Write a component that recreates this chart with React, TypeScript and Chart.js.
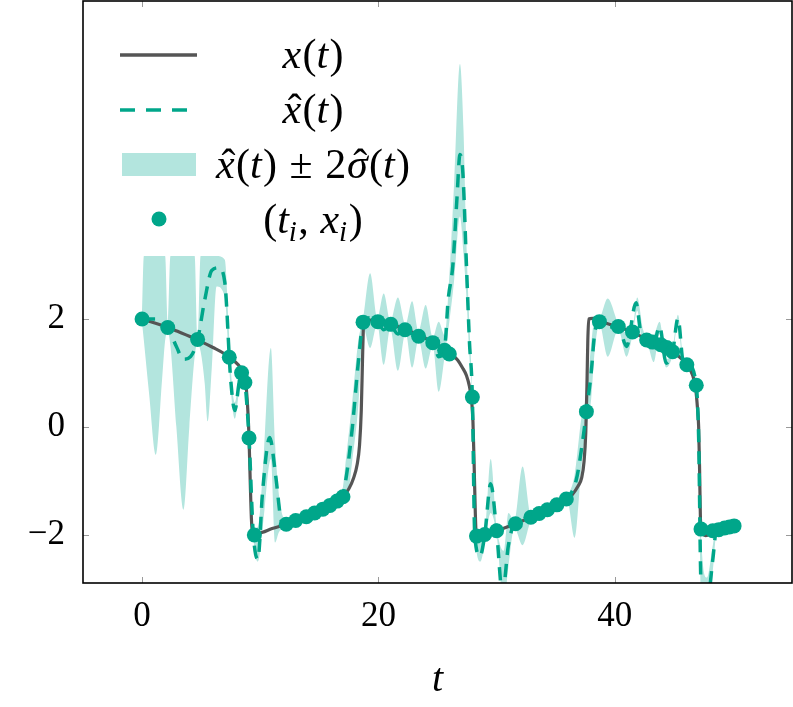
import { useEffect, useRef } from 'react';
import { Chart, registerables } from 'chart.js';
Chart.register(...registerables);

// ---------- data ----------
const trueT = [0, 1, 2, 3, 4, 5, 6, 7, 7.8, 8.3, 8.6, 8.8, 8.95, 9.05, 9.15, 9.25, 9.35, 9.6, 10.2, 11, 12.2, 13, 14, 15, 16, 17, 17.5, 17.9, 18.2, 18.4, 18.55, 18.65, 18.72, 18.8, 19.2, 20, 21, 22, 23, 24, 25, 25.6, 26.2, 26.7, 27.1, 27.45, 27.7, 27.9, 28.0, 28.1, 28.2, 28.28, 28.5, 29, 30, 31, 32, 33, 34, 35, 35.9, 36.4, 36.9, 37.2, 37.4, 37.55, 37.65, 37.72, 37.8, 38.1, 39, 40, 41, 42, 43, 44, 45, 45.7, 46.2, 46.6, 46.85, 47.0, 47.1, 47.18, 47.25, 47.35, 47.7, 48.3, 49, 50];
const trueX = [2.0, 1.93, 1.86, 1.77, 1.68, 1.58, 1.47, 1.35, 1.22, 1.1, 0.95, 0.75, 0.3, -0.2, -1.0, -1.7, -1.97, -2.0, -1.96, -1.89, -1.81, -1.74, -1.66, -1.56, -1.45, -1.3, -1.15, -0.95, -0.7, -0.35, 0.3, 1.2, 1.8, 1.98, 1.98, 1.95, 1.9, 1.83, 1.74, 1.64, 1.52, 1.44, 1.34, 1.24, 1.1, 0.95, 0.75, 0.45, 0.1, -0.7, -1.6, -2.0, -2.02, -2.0, -1.93, -1.85, -1.76, -1.68, -1.59, -1.48, -1.35, -1.26, -1.1, -0.95, -0.65, -0.1, 0.8, 1.6, 2.0, 2.01, 1.94, 1.87, 1.8, 1.7, 1.6, 1.49, 1.37, 1.25, 1.12, 0.95, 0.7, 0.35, 0.0, -0.8, -1.7, -1.95, -2.02, -1.96, -1.91, -1.84];

const estT = [0, 1.1, 2.17, 2.9, 3.5, 4.1, 4.7, 5.3, 5.9, 6.5, 7.0, 7.5, 7.85, 8.2, 8.42, 8.7, 9.05, 9.4, 9.8, 10.2, 10.8, 11.3, 11.8, 12.2, 13.2, 14.3, 15.3, 16.2, 16.9, 17.3, 17.8, 18.3, 18.7, 19.3, 19.9, 20.45, 21.0, 21.65, 22.3, 22.85, 23.4, 24.0, 24.6, 25.1, 25.6, 25.9, 26.3, 26.65, 26.9, 27.15, 27.45, 27.7, 27.95, 28.15, 28.6, 29.0, 29.5, 30.0, 30.5, 31.0, 31.5, 32.2, 32.9, 33.8, 34.5, 35.3, 36.0, 36.75, 37.3, 37.6, 38.0, 38.3, 38.7, 39.4, 40.3, 41.0, 41.8, 42.2, 42.7, 43.2, 43.8, 44.35, 44.9, 45.35, 45.8, 46.2, 46.9, 47.1, 47.3, 47.8, 48.3, 48.6, 49.4, 50.1];
const estX = [2.0, 2.0, 1.84, 1.49, 1.25, 1.3, 1.62, 2.35, 2.9, 2.95, 2.68, 0.87, 0.3, 0.8, 1.0, 0.82, -0.21, -1.95, -2.46, -1.2, -0.2, -0.9, -1.75, -1.81, -1.72, -1.61, -1.51, -1.41, -1.32, -0.9, 0.0, 1.2, 1.92, 2.02, 1.96, 1.8, 1.88, 1.72, 1.84, 1.72, 1.73, 1.62, 1.62, 1.3, 1.45, 2.35, 3.0, 4.25, 5.05, 4.7, 3.0, 1.59, 0.55, -2.0, -2.4, -2.0, -1.06, -1.93, -3.1, -2.2, -1.81, -1.75, -1.71, -1.61, -1.55, -1.44, -1.33, -0.98, -0.24, 0.28, 0.99, 1.73, 1.95, 1.85, 1.86, 1.49, 2.3, 1.75, 1.6, 1.45, 1.86, 1.18, 1.39, 2.01, 1.2, 1.16, 0.76, -0.2, -2.9, -3.3, -2.46, -1.93, -1.88, -1.84];

const bandT = [0, 0.15, 0.6, 1.16, 1.7, 1.95, 2.17, 2.4, 2.9, 3.5, 4.0, 4.45, 4.7, 4.95, 5.3, 5.55, 5.9, 6.3, 7.0, 7.3, 7.5, 7.85, 8.2, 8.42, 8.7, 9.05, 9.4, 9.8, 10.2, 10.9, 11.25, 11.6, 12.2, 13.2, 14.3, 15.3, 16.2, 16.9, 17.3, 17.8, 18.3, 18.7, 19.3, 19.9, 20.45, 21.0, 21.65, 22.3, 22.85, 23.4, 24.0, 24.6, 25.1, 25.6, 26.0, 26.4, 26.9, 27.2, 27.45, 27.7, 27.95, 28.2, 28.65, 29.0, 29.5, 30.0, 30.6, 31.0, 31.5, 32.2, 32.9, 33.8, 34.5, 35.3, 36.0, 36.6, 37.2, 37.6, 38.0, 38.3, 38.7, 39.4, 40.3, 41.0, 41.5, 41.9, 42.4, 42.7, 43.3, 43.8, 44.35, 44.9, 45.35, 45.8, 46.2, 46.9, 47.1, 47.3, 47.8, 48.3, 48.6, 49.4, 50.1];
const bandUpper = [2.08, 3.17, 3.17, 3.17, 3.17, 3.17, 1.92, 3.17, 3.17, 3.17, 3.17, 3.17, 1.7, 3.17, 3.17, 3.17, 3.17, 3.17, 3.1, 2.0, 1.1, 0.45, 0.88, 1.06, 0.88, -0.15, -1.9, -1.85, -0.9, 1.46, -0.3, -1.3, -1.74, -1.66, -1.55, -1.45, -1.35, -1.22, -0.5, 0.5, 1.6, 2.0, 2.85, 2.02, 2.47, 1.96, 2.4, 1.9, 2.33, 1.78, 2.26, 1.66, 1.95, 1.7, 2.8, 4.5, 6.73, 5.5, 3.4, 1.9, 0.62, -1.9, -1.95, -1.9, -0.6, -1.85, -2.3, -1.6, -1.75, -0.74, -1.64, -1.55, -1.49, -1.38, -1.27, -0.9, 0.2, 0.6, 1.5, 2.0, 2.02, 2.38, 1.92, 1.75, 1.82, 2.4, 1.8, 1.66, 1.7, 1.95, 1.25, 1.45, 2.08, 1.3, 1.22, 0.82, 0.0, -2.0, -2.8, -2.2, -1.88, -1.83, -1.79];
const bandLower = [1.92, 1.6, 0.6, -0.52, 0.9, 1.6, 1.76, 1.5, 0.0, -1.54, 0.0, 1.3, 1.55, 1.4, 0.8, 0.1, 1.1, 2.6, 2.4, 1.4, 0.7, 0.15, 0.65, 0.95, 0.76, -0.27, -2.0, -2.5, -1.9, -0.6, -2.15, -1.95, -1.88, -1.78, -1.67, -1.57, -1.47, -1.42, -1.4, -0.6, 0.4, 1.85, 1.46, 1.9, 1.15, 1.82, 1.04, 1.75, 1.1, 1.62, 1.08, 1.5, 0.65, 1.3, 1.95, 2.7, 3.9, 3.2, 2.4, 1.3, 0.45, -2.1, -2.5, -2.15, -1.6, -2.0, -3.3, -2.6, -1.88, -2.2, -1.76, -1.67, -1.61, -1.5, -1.4, -2.06, -0.7, 0.0, 0.5, 1.4, 1.9, 1.3, 1.8, 1.3, 1.7, 2.15, 1.5, 1.55, 1.2, 1.72, 1.1, 1.33, 1.9, 1.1, 1.1, 0.7, -0.3, -3.3, -3.5, -2.7, -2.0, -1.93, -1.89];

const obsT = [0, 2.17, 4.7, 7.38, 8.42, 8.7, 9.05, 9.5, 12.2, 13.0, 13.9, 14.6, 15.3, 15.9, 16.5, 17.0, 18.7, 19.95, 21.05, 22.25, 23.4, 24.6, 25.6, 26.0, 27.95, 28.3, 29.0, 30.0, 31.6, 32.9, 33.6, 34.3, 35.1, 35.9, 37.6, 38.7, 40.3, 41.5, 42.7, 43.2, 43.9, 44.4, 44.9, 46.1, 46.9, 47.3, 48.3, 48.8, 49.3, 49.7, 50.1];
const obsX = [2.0, 1.84, 1.62, 1.29, 1.0, 0.82, -0.21, -2.01, -1.81, -1.74, -1.67, -1.6, -1.53, -1.46, -1.38, -1.3, 1.94, 1.95, 1.9, 1.8, 1.68, 1.56, 1.42, 1.35, 0.55, -2.03, -2.0, -1.93, -1.8, -1.68, -1.61, -1.54, -1.45, -1.34, 0.28, 1.95, 1.86, 1.76, 1.61, 1.57, 1.52, 1.47, 1.39, 1.15, 0.77, -1.9, -1.93, -1.91, -1.88, -1.86, -1.84];

const xTicks = [0, 20, 40];
const yTicks = [-2, 0, 2];
const xMin = -5, xMax = 55;
const yMin = -2.9, yMax = 7.9;
const xTitle = 't';

// ---------- styles ----------
const GRAY = '#555555';
const TEAL = '#00a68a';
const BAND = '#b3e5de';
const FAM = '"Liberation Serif", serif';
const DASH = [13, 9];

const zip = (ts: number[], ys: number[]) => ts.map((t, i) => ({ x: t, y: ys[i] }));
const minus = (v: number) => (v < 0 ? '\u2212' + Math.abs(v) : String(v));

type Seg = { s: string; it?: boolean; sub?: boolean; hat?: boolean; l?: number; r?: number };

const legendRows: Seg[][] = [
  [{ s: 'x', it: true }, { s: '(', l: 0.03 }, { s: 't', it: true }, { s: ')', l: 0.03 }],
  [{ s: 'x', it: true, hat: true }, { s: '(', l: 0.03 }, { s: 't', it: true }, { s: ')', l: 0.03 }],
  [
    { s: 'x', it: true, hat: true }, { s: '(', l: 0.03 }, { s: 't', it: true }, { s: ')', l: 0.03 },
    { s: '\u00B1', l: 0.3, r: 0.3 }, { s: '2' }, { s: '\u03C3', it: true, hat: true, l: 0.02 }, { s: '(', l: 0.03 }, { s: 't', it: true }, { s: ')', l: 0.03 },
  ],
  [
    { s: '(' }, { s: 't', it: true }, { s: 'i', it: true, sub: true }, { s: ',', l: 0.03, r: 0.28 },
    { s: 'x', it: true }, { s: 'i', it: true, sub: true }, { s: ')', l: 0.04 },
  ],
];

function drawMath(ctx: CanvasRenderingContext2D, segs: Seg[], cx: number, baseline: number, size: number) {
  const fontFor = (sg: Seg) => `${sg.it ? 'italic ' : ''}${sg.sub ? Math.round(size * 0.7) : size}px ${FAM}`;
  let total = 0;
  const widths = segs.map((sg) => {
    ctx.font = fontFor(sg);
    const w = ctx.measureText(sg.s).width + ((sg.l || 0) + (sg.r || 0)) * size;
    total += w;
    return w;
  });
  let x = cx - total / 2;
  ctx.fillStyle = '#000';
  ctx.textBaseline = 'alphabetic';
  segs.forEach((sg, i) => {
    ctx.font = fontFor(sg);
    ctx.textAlign = 'left';
    const y = sg.sub ? baseline + size * 0.2 : baseline;
    const x0 = x + (sg.l || 0) * size;
    ctx.fillText(sg.s, x0, y);
    if (sg.hat) {
      const gw = ctx.measureText(sg.s).width;
      ctx.font = `${size}px ${FAM}`;
      ctx.textAlign = 'center';
      ctx.fillText('\u02C6', x0 + gw / 2 + size * 0.07, y);
      ctx.textAlign = 'left';
    }
    x += widths[i];
  });
}

const framePlugin = {
  id: 'frameTicks',
  beforeDatasetsDraw(chart: any) {
    const { ctx, chartArea: a, scales } = chart;
    ctx.save();
    ctx.strokeStyle = '#9a9a9a';
    ctx.lineWidth = 1;
    const L = 6;
    xTicks.forEach((v) => {
      const px = Math.round(scales.x.getPixelForValue(v)) + 0.5;
      ctx.beginPath();
      ctx.moveTo(px, a.bottom); ctx.lineTo(px, a.bottom - L);
      ctx.moveTo(px, a.top); ctx.lineTo(px, a.top + L);
      ctx.stroke();
    });
    yTicks.forEach((v) => {
      const py = Math.round(scales.y.getPixelForValue(v)) + 0.5;
      ctx.beginPath();
      ctx.moveTo(a.left, py); ctx.lineTo(a.left + L, py);
      ctx.moveTo(a.right, py); ctx.lineTo(a.right - L, py);
      ctx.stroke();
    });
    ctx.restore();
  },
  afterDatasetsDraw(chart: any) {
    const { ctx, chartArea: a } = chart;
    ctx.save();
    ctx.strokeStyle = '#000';
    ctx.lineWidth = 1.6;
    ctx.strokeRect(a.left, a.top, a.right - a.left, a.bottom - a.top);
    ctx.restore();
  },
  afterDraw(chart: any) {
    const { ctx } = chart;
    ctx.save();
    const x0 = 120, x1 = 197;
    const rows = [55, 110, 165, 220];
    ctx.strokeStyle = GRAY; ctx.lineWidth = 3.5; ctx.setLineDash([]);
    ctx.beginPath(); ctx.moveTo(x0, rows[0]); ctx.lineTo(x1, rows[0]); ctx.stroke();
    ctx.strokeStyle = TEAL; ctx.lineWidth = 3.5; ctx.setLineDash([15, 11]);
    ctx.beginPath(); ctx.moveTo(x0, rows[1]); ctx.lineTo(x1, rows[1]); ctx.stroke();
    ctx.setLineDash([]);
    ctx.fillStyle = BAND;
    ctx.fillRect(122, rows[2] - 12, 74, 23);
    ctx.fillStyle = TEAL;
    ctx.beginPath(); ctx.arc(159, rows[3] - 1, 7.5, 0, Math.PI * 2); ctx.fill();
    legendRows.forEach((r, i) => drawMath(ctx, r, 313, rows[i] + 13, 42));
    ctx.restore();
  },
};

export default function App() {
  const ref = useRef<HTMLCanvasElement | null>(null);
  useEffect(() => {
    document.body.style.margin = '0';
    const canvas = ref.current!;
    let chart: any = null;
    let dead = false;
    const pad0 = (s: any) => { s.paddingTop = 0; s.paddingBottom = 0; s.paddingLeft = 0; s.paddingRight = 0; };
    const make = () => {
      if (dead) return;
      chart = new Chart(canvas, {
        type: 'line',
        data: {
          datasets: [
            {
              label: 'upper', data: zip(bandT, bandUpper), borderWidth: 0, pointRadius: 0,
              backgroundColor: BAND, fill: { target: 1 }, cubicInterpolationMode: 'monotone', order: 4,
            } as any,
            {
              label: 'lower', data: zip(bandT, bandLower), borderWidth: 0, pointRadius: 0,
              backgroundColor: BAND, fill: false, cubicInterpolationMode: 'monotone', order: 5,
            } as any,
            {
              label: 'x(t)', data: zip(trueT, trueX), borderColor: GRAY, borderWidth: 3.2, pointRadius: 0,
              fill: false, cubicInterpolationMode: 'monotone', order: 3,
            } as any,
            {
              label: 'x̂(t)', data: zip(estT, estX), borderColor: TEAL, borderWidth: 3.5, borderDash: DASH,
              pointRadius: 0, fill: false, cubicInterpolationMode: 'monotone', order: 2,
            } as any,
            {
              label: '(t_i, x_i)', data: zip(obsT, obsX), showLine: false, pointRadius: 7.5,
              pointBackgroundColor: TEAL, pointBorderWidth: 0, pointBorderColor: TEAL, order: 1,
            } as any,
          ],
        },
        options: {
          animation: false,
          responsive: false,
          events: [],
          layout: { autoPadding: false, padding: { top: 1, right: 1, left: 0, bottom: 0 } },
          plugins: { legend: { display: false }, tooltip: { enabled: false } },
          scales: {
            x: {
              type: 'linear', min: xMin, max: xMax,
              afterBuildTicks: (s: any) => { s.ticks = xTicks.map((v) => ({ value: v })); },
              afterFit: (s: any) => { s.height = 124; pad0(s); },
              grid: { display: false, drawTicks: false },
              border: { display: false },
              ticks: { font: { family: FAM, size: 35 }, color: '#000', padding: 13, maxRotation: 0, callback: (v: any) => minus(Number(v)) },
              title: { display: true, text: xTitle, font: { family: FAM, size: 40, style: 'italic' }, color: '#000', padding: { top: 0, bottom: 3 } },
            },
            y: {
              type: 'linear', min: yMin, max: yMax,
              afterBuildTicks: (s: any) => { s.ticks = yTicks.map((v) => ({ value: v })); },
              afterFit: (s: any) => { s.width = 83; pad0(s); },
              grid: { display: false, drawTicks: false },
              border: { display: false },
              ticks: { font: { family: FAM, size: 35 }, color: '#000', padding: 18, callback: (v: any) => minus(Number(v)) },
            },
          },
        } as any,
        plugins: [framePlugin],
      });
    };
    const loads = ['35px "Liberation Serif"', 'italic 35px "Liberation Serif"'].map((f) => (document as any).fonts.load(f).catch(() => null));
    Promise.all(loads).then(make, make);
    return () => { dead = true; if (chart) chart.destroy(); };
  }, []);
  return (
    <div style={{ width: 793, height: 707 }}>
      <canvas ref={ref} width={793} height={707} style={{ display: 'block' }} />
    </div>
  );
}
